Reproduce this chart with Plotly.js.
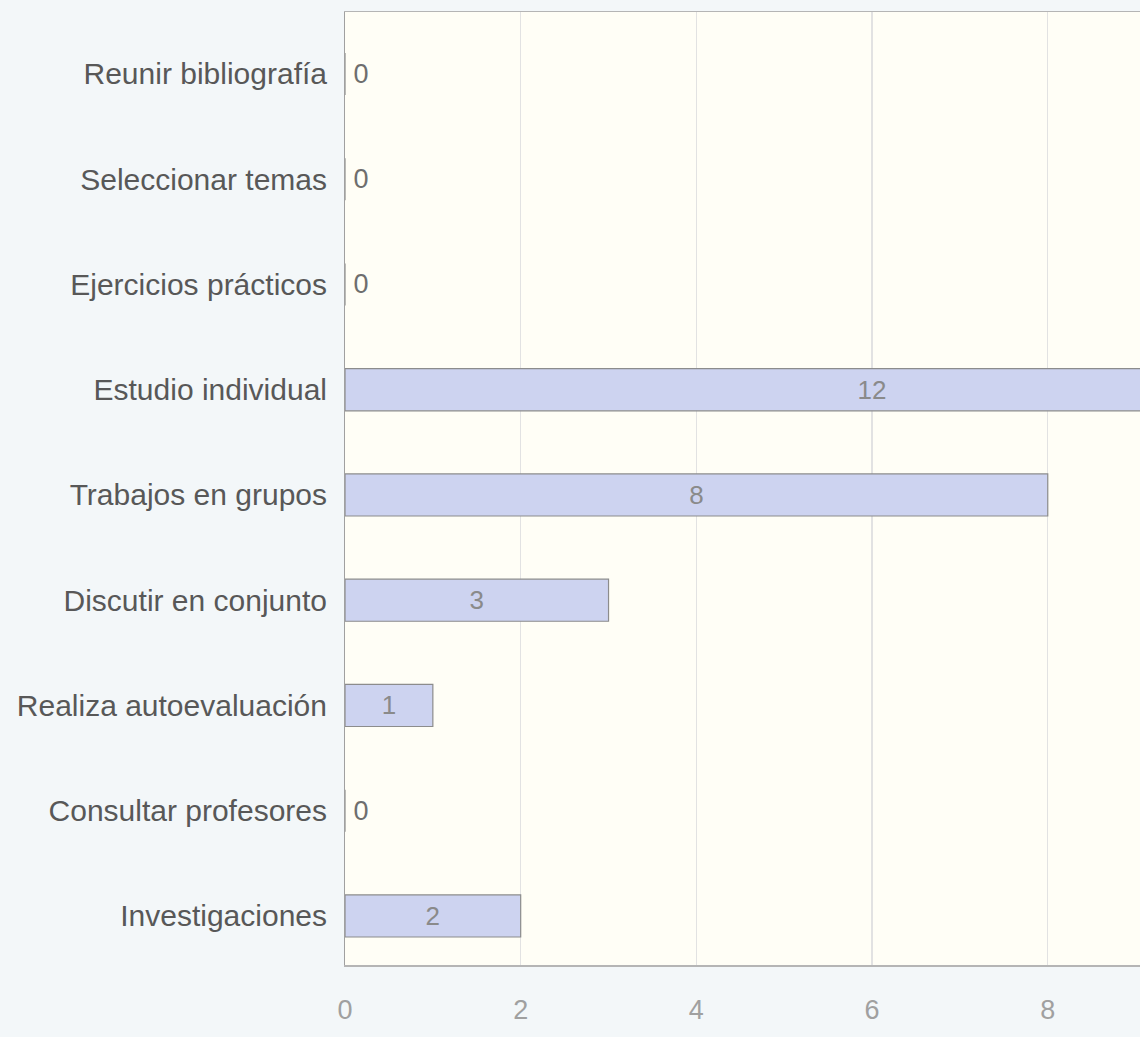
<!DOCTYPE html>
<html>
<head>
<meta charset="utf-8">
<script src="https://cdn.plot.ly/plotly-3.0.1.min.js"></script>
<style>
html,body{margin:0;padding:0;background:#f3f7f9;}
#chart{width:1140px;height:1037px;}
</style>
</head>
<body>
<div id="chart"></div>
<script>
const categories = [
  "Reunir bibliografía",
  "Seleccionar temas",
  "Ejercicios prácticos",
  "Estudio individual",
  "Trabajos en grupos",
  "Discutir en conjunto",
  "Realiza autoevaluación",
  "Consultar profesores",
  "Investigaciones"
];
const values = [0, 0, 0, 12, 8, 3, 1, 0, 2];
const xTicks = [0, 2, 4, 6, 8];

const textPos = values.map(v => v === 0 ? "outside" : "inside");
const labels = values.map(v => v === 0 ? "\u2009" + v : String(v));

const trace = {
  type: "bar",
  orientation: "h",
  x: values,
  y: categories,
  text: labels,
  textposition: textPos,
  insidetextanchor: "middle",
  textangle: 0,
  constraintext: "none",
  cliponaxis: true,
  textfont: {family: "Liberation Sans, Arial, sans-serif", size: 26, color: "#8a8a8a"},
  insidetextfont: {family: "Liberation Sans, Arial, sans-serif", size: 26, color: "#8a8a8a"},
  outsidetextfont: {family: "Liberation Sans, Arial, sans-serif", size: 27, color: "#6e6e6e"},
  marker: {color: "#cdd3f0", line: {color: "#8c8c8c", width: 1.2}},
  hoverinfo: "x+y"
};

const layout = {
  width: 1140,
  height: 1037,
  margin: {l: 345, r: 0, t: 12, b: 72, pad: 0},
  paper_bgcolor: "#f3f7f9",
  plot_bgcolor: "#fffef6",
  bargap: 0.6,
  showlegend: false,
  font: {family: "Liberation Sans, Arial, sans-serif"},
  xaxis: {
    range: [0, 9.05],
    tickvals: xTicks,
    ticktext: xTicks.map(String),
    tickfont: {size: 27, color: "#a0a0a0"},
    ticklabelstandoff: 20,
    showgrid: true,
    gridcolor: "#e2e2e2",
    gridwidth: 1.3,
    zeroline: false,
    showline: true,
    linecolor: "#b5b5b5",
    linewidth: 1.5,
    mirror: true,
    ticks: "",
    ticklen: 0,
    automargin: false
  },
  yaxis: {
    type: "category",
    categoryorder: "array",
    categoryarray: categories,
    range: [8.466, -0.589],
    tickfont: {size: 30, color: "#585858"},
    ticks: "",
    ticklabelstandoff: 11,
    showgrid: false,
    zeroline: false,
    showline: true,
    linecolor: "#a0a0a0",
    linewidth: 1,
    automargin: false
  }
};

Plotly.newPlot("chart", [trace], layout, {displayModeBar: false, staticPlot: true});
</script>
</body>
</html>
